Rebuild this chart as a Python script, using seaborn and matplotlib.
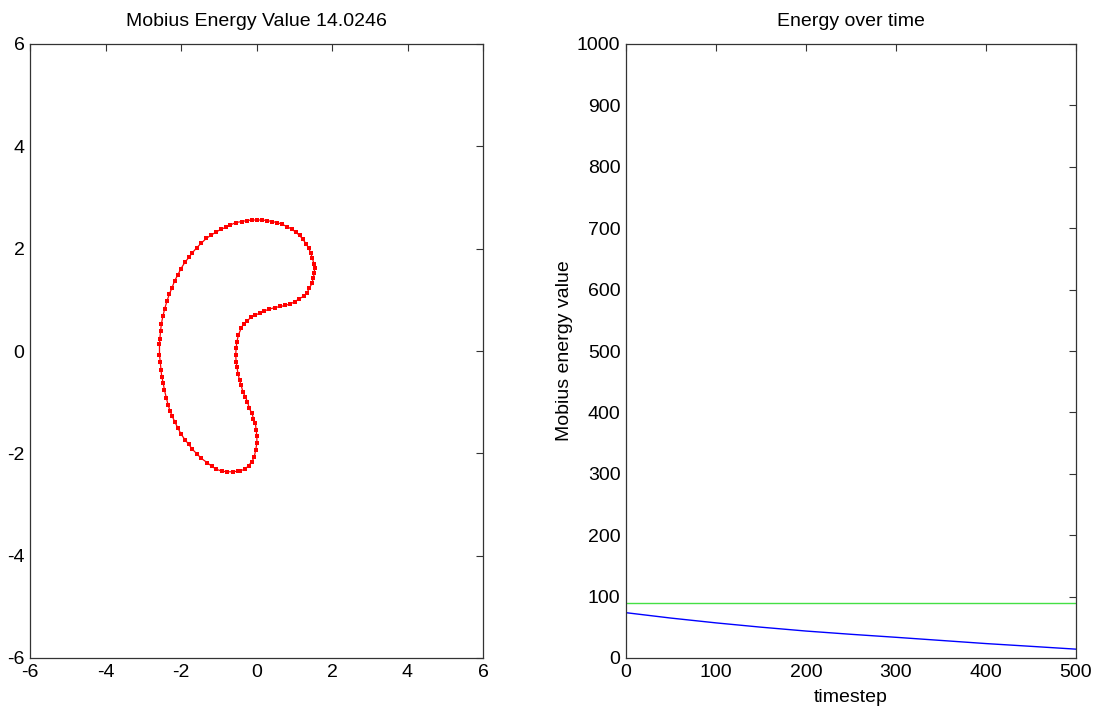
import numpy as np
import pandas as pd
import matplotlib
matplotlib.use("Agg")
import matplotlib.pyplot as plt
import seaborn as sns

# closed curve, in order round the loop
curve_x = [0.01, -0.12, -0.25, -0.39, -0.55, -0.70, -0.80, -0.94, -1.08, -1.21,
           -1.33, -1.46, -1.58, -1.70, -1.79, -1.90, -2.00, -2.09, -2.17, -2.24,
           -2.31, -2.37, -2.43, -2.48, -2.52, -2.54, -2.56, -2.57, -2.57, -2.55,
           -2.53, -2.51, -2.47, -2.44, -2.39, -2.34, -2.29, -2.23, -2.16, -2.08,
           -2.00, -1.90, -1.80, -1.70, -1.58, -1.46, -1.31, -1.19, -1.07, -0.91,
           -0.77, -0.63, -0.50, -0.43, -0.30, -0.21, -0.12, -0.06, -0.02, 0.01,
           0.01, -0.01, -0.03, -0.08, -0.12, -0.19, -0.24, -0.30, -0.36, -0.41,
           -0.45, -0.49, -0.52, -0.54, -0.55, -0.54, -0.52, -0.48, -0.41, -0.34,
           -0.25, -0.14, -0.03, 0.08, 0.20, 0.34, 0.50, 0.63, 0.76, 0.89,
           1.01, 1.13, 1.25, 1.34, 1.40, 1.47, 1.50, 1.53, 1.54, 1.52,
           1.48, 1.44, 1.38, 1.31, 1.23, 1.14, 1.04, 0.94, 0.81, 0.67,
           0.54, 0.41, 0.28, 0.14, 0.01]
curve_y = [2.56, 2.56, 2.55, 2.53, 2.51, 2.46, 2.42, 2.38, 2.32, 2.26,
           2.20, 2.11, 2.02, 1.92, 1.83, 1.73, 1.61, 1.48, 1.37, 1.23,
           1.11, 0.98, 0.83, 0.68, 0.53, 0.40, 0.24, 0.14, -0.08, -0.21,
           -0.37, -0.50, -0.63, -0.76, -0.91, -1.06, -1.17, -1.28, -1.39, -1.51,
           -1.62, -1.73, -1.82, -1.92, -2.01, -2.10, -2.18, -2.25, -2.31, -2.35,
           -2.36, -2.36, -2.35, -2.34, -2.31, -2.24, -2.16, -2.07, -1.93, -1.80,
           -1.67, -1.54, -1.41, -1.32, -1.22, -1.12, -0.99, -0.89, -0.80, -0.66,
           -0.57, -0.44, -0.31, -0.21, -0.08, 0.05, 0.18, 0.31, 0.44, 0.53,
           0.59, 0.66, 0.70, 0.74, 0.78, 0.82, 0.85, 0.87, 0.89, 0.92,
           0.96, 1.02, 1.07, 1.14, 1.23, 1.32, 1.42, 1.52, 1.62, 1.71,
           1.81, 1.91, 2.01, 2.10, 2.18, 2.26, 2.32, 2.38, 2.43, 2.48,
           2.51, 2.53, 2.55, 2.56, 2.56]

# energy history
timestep = [0, 50, 100, 150, 200, 250, 300, 350, 400, 450, 500]
energy = [73.8, 65.0, 57.2, 50.2, 43.9, 38.6, 33.7, 28.6, 23.5, 19.0, 14.4]
ref_t = [0, 500]
ref_energy = [88.8, 88.8]

current_energy = "14.0246"

sns.set_theme(style="white")
plt.rcParams['font.family'] = ['Liberation Sans', 'DejaVu Sans']
plt.rcParams['axes.unicode_minus'] = False
plt.rcParams['text.color'] = 'black'
plt.rcParams['axes.labelcolor'] = 'black'
plt.rcParams['xtick.color'] = 'black'
plt.rcParams['ytick.color'] = 'black'

fig = plt.figure(figsize=(11.02, 7.13), dpi=100)
ax1 = fig.add_axes([30 / 1102, 55 / 713, 453 / 1102, 614 / 713])
ax2 = fig.add_axes([626 / 1102, 55 / 713, 450 / 1102, 614 / 713])

curve = pd.DataFrame({"x": curve_x, "y": curve_y})
sns.lineplot(data=curve, x="x", y="y", sort=False, estimator=None, ax=ax1,
             color="red", linewidth=0.9, marker="s", markersize=2.3,
             markeredgewidth=0)
ax1.set_xlim(-6, 6)
ax1.set_ylim(-6, 6)
ax1.set_xticks(range(-6, 7, 2))
ax1.set_yticks(range(-6, 7, 2))
ax1.set_xlabel("")
ax1.set_ylabel("")
ax1.set_title(f"Mobius Energy Value {current_energy}", fontsize=14, pad=13)

hist = pd.DataFrame({"t": timestep, "e": energy})
ref = pd.DataFrame({"t": ref_t, "e": ref_energy})
sns.lineplot(data=ref, x="t", y="e", ax=ax2, color="#44e044", linewidth=1)
sns.lineplot(data=hist, x="t", y="e", ax=ax2, color="blue", linewidth=1)
ax2.set_xlim(0, 500)
ax2.set_ylim(0, 1000)
ax2.set_xticks(range(0, 501, 100))
ax2.set_yticks(range(0, 1001, 100))
ax2.set_xlabel("timestep", fontsize=14, labelpad=6)
ax2.set_ylabel("Mobius energy value", fontsize=14, labelpad=3)
ax2.set_title("Energy over time", fontsize=14, pad=13)

for ax in (ax1, ax2):
    ax.tick_params(axis="both", which="both", direction="in", length=5,
                   width=0.8, top=True, right=True, labelsize=14, pad=4,
                   color="#333333", labelcolor="black")
    for s in ax.spines.values():
        s.set_color("#333333")
        s.set_linewidth(0.9)

fig.savefig("out.png", dpi=100)
